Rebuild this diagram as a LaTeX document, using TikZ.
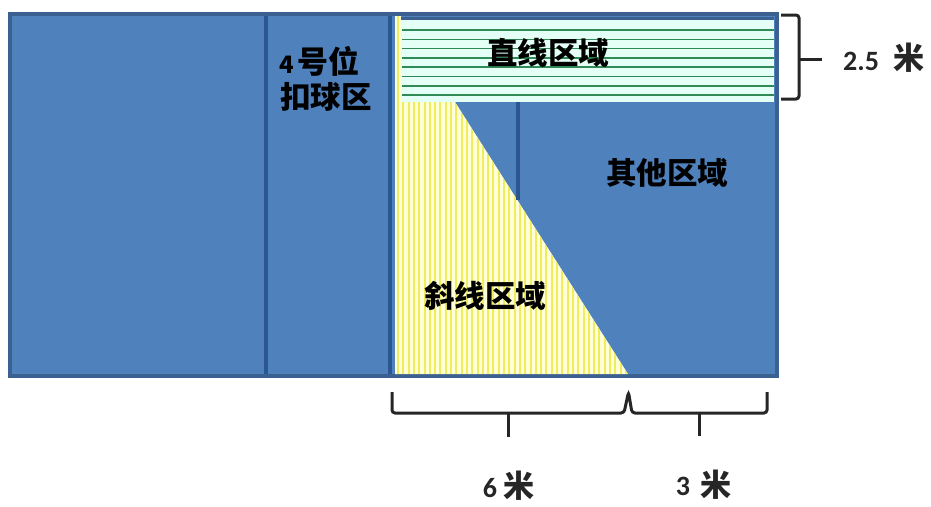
\documentclass[tikz,border=0pt]{standalone}
\usepackage{fontspec}
\setmainfont{Carlito}
\newfontfamily\cjk{Noto Sans CJK SC}
\definecolor{court}{HTML}{4F81BD}
\definecolor{courtedge}{HTML}{3A6190}
\definecolor{divline}{HTML}{2B5790}
\definecolor{stripebg}{HTML}{E3FFF6}
\definecolor{stripegreen}{HTML}{2F8A55}
\definecolor{ybg}{HTML}{FFFFD8}
\definecolor{ystripe}{HTML}{F0EC60}
\tikzset{
  lbl/.style={font=\cjk\bfseries\fontsize{30.5}{32}\selectfont, inner sep=0pt, text=black},
  dim/.style={font=\bfseries\fontsize{28}{30}\selectfont, inner sep=0pt, text=black!85},
  dimcjk/.style={font=\cjk\bfseries\fontsize{31}{33}\selectfont, inner sep=0pt, text=black!85},
  bracestyle/.style={line width=3pt, black!85, rounded corners=3pt},
  divider/.style={line width=4.5pt, divline}
}
\begin{document}
\begin{tikzpicture}[x=1pt,y=-1pt]
\useasboundingbox (0,0) rectangle (931,506);
% court
\draw[line width=3.5pt, courtedge, fill=court] (10,14) rectangle (777,376);
\draw[divider] (266,16) -- (266,374);
\draw[divider] (390,16) -- (390,374);
% diagonal zone (incl. strip along the left)
\fill[ybg] (395,16) -- (401,16) -- (401,102) -- (455,102) -- (628,374) -- (395,374) -- cycle;
\begin{scope}
  \clip (395,16) -- (401,16) -- (401,102) -- (455,102) -- (628,374) -- (395,374) -- cycle;
  \foreach \i in {0,...,45}
    \draw[ystripe, line width=2pt] ({398+\i*5.3},16) -- ({398+\i*5.3},374);
\end{scope}
% straight zone
\fill[stripebg] (401,18) rectangle (774,102);
\draw[courtedge, line width=3pt] (401,18) -- (774,18);
\foreach \i in {0,...,7}
  \draw[stripegreen, line width=1.6pt] (402,{30+\i*9.3}) -- (774,{30+\i*9.3});
\coordinate (dtop) at (518,102);
\coordinate (dbot) at (518,200);
\draw[divider, line width=3.5pt] (dtop) -- (dbot);
% labels
\node[lbl, anchor=west] (l4) at (279,61) {\fontsize{24}{26}\selectfont 4\,\fontsize{31}{33}\selectfont 号位};
\node[lbl, anchor=west] (lk) at (280,97) {扣球区};
\node[lbl] (zx) at (548,53) {直线区域};
\node[lbl] (qt) at (667,173) {其他区域};
\node[lbl] (xx) at (485,296) {斜线区域};
% right brace
\coordinate (rb1) at (781,15);
\coordinate (rb2) at (781,99);
\coordinate (rbt) at (822,59);
\draw[bracestyle] (rb1) -- (799,15) -- (799,99) -- (rb2);
\draw[line width=3pt, black!85] (799,59) -- (rbt);
\node[dim] (d25) at (861,61) {2.5};
\node[dimcjk] (m25) at (909,58) {米};
% bottom braces
\coordinate (b6l) at (392,392);
\coordinate (b6t) at (508,437);
\draw[bracestyle] (b6l) -- (392,413) -- (624,413) -- (628.5,392) -- (632,413) -- (767,413) -- (767,392);
\draw[line width=3pt, black!85] (508,413) -- (b6t);
\coordinate (b3t) at (699,436);
\draw[line width=3pt, black!85] (699,413) -- (b3t);
\node[dim] (d6) at (490,488) {6};
\node[dimcjk] (m6) at (519,486) {米};
\node[dim] (d3) at (683,486) {3};
\node[dimcjk] (m3) at (716,485) {米};
\end{tikzpicture}
\end{document}
